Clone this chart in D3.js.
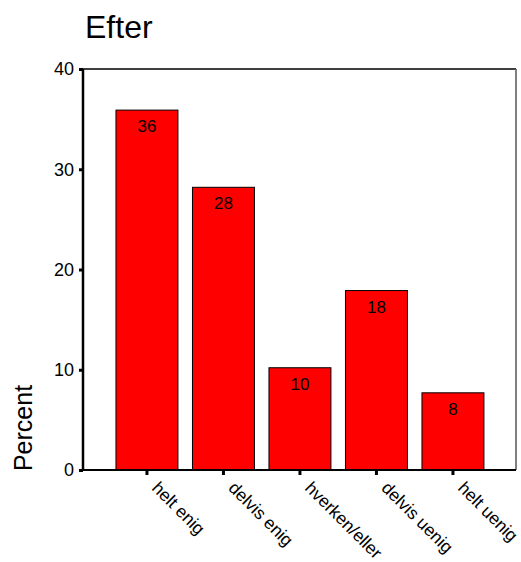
<!DOCTYPE html>
<html><head><meta charset="utf-8">
<script src="https://cdn.jsdelivr.net/npm/d3@7"></script>
<style>body{margin:0;background:#fff;} svg{display:block;font-family:Arial,"Liberation Sans",sans-serif;}</style>
</head><body>
<svg id="c" width="521" height="562"></svg>
<script>
const categories = ["helt enig","delvis enig","hverken/eller","delvis uenig","helt uenig"];
const values = [35.9, 28.2, 10.2, 17.9, 7.7];
const labels = ["36","28","10","18","8"];
const yTicks = [0,10,20,30,40];
const title = "Efter";
const yTitle = "Percent";

(function(){
const svg = d3.select("#c");
const pL = 83, pR = 516, pT = 69, pB = 470;
const x = d3.scaleBand().domain(categories).range([108.7, 491.2]).paddingInner(0.19).paddingOuter(0.095);
const y = d3.scaleLinear().domain([0,40]).range([pB, pT]);

svg.append("text").attr("x",85).attr("y",38).attr("font-size",32).attr("fill","#000").text(title);

svg.append("line").attr("x1",pL).attr("x2",pR).attr("y1",pT).attr("y2",pT).attr("stroke","#000").attr("stroke-width",1.5);
svg.append("line").attr("x1",pR).attr("x2",pR).attr("y1",pT).attr("y2",pB).attr("stroke","#555").attr("stroke-width",1.5);

svg.selectAll("rect.bar").data(values).enter().append("rect")
  .attr("x",(d,i)=>x(categories[i])).attr("width",x.bandwidth())
  .attr("y",d=>y(d)).attr("height",d=>pB-y(d))
  .attr("fill","#ff0000").attr("stroke","#000").attr("stroke-width",1);

svg.selectAll("text.val").data(values).enter().append("text")
  .attr("x",(d,i)=>x(categories[i])+x.bandwidth()/2).attr("y",d=>y(d)+22)
  .attr("text-anchor","middle").attr("font-size",17).attr("fill","#000")
  .text((d,i)=>labels[i]);

const ya = svg.append("g").attr("transform",`translate(${pL},0)`)
  .call(d3.axisLeft(y).tickValues(yTicks).tickSize(4).tickPadding(5).tickFormat(d3.format("d")));
ya.select(".domain").attr("stroke","#000").attr("stroke-width",2.5).attr("d",`M0,${pT}V${pB}`);
ya.selectAll(".tick line").attr("stroke","#000").attr("stroke-width",3);
ya.selectAll(".tick text").attr("font-size",18).attr("fill","#000").attr("font-family","Arial,'Liberation Sans',sans-serif");

const xa = svg.append("g").attr("transform",`translate(0,${pB})`)
  .call(d3.axisBottom(x).tickSize(5).tickFormat(""));
xa.select(".domain").attr("stroke","#000").attr("stroke-width",2).attr("d",`M${pL},0H${pR}`);
xa.selectAll(".tick line").attr("stroke","#000").attr("stroke-width",3);
xa.selectAll(".tick").append("text")
  .attr("transform","translate(4,19) rotate(45)")
  .attr("text-anchor","start").attr("font-size",17.5).attr("fill","#000")
  .attr("font-family","Arial,'Liberation Sans',sans-serif")
  .text(d=>d);

svg.append("text").attr("transform","translate(32,428) rotate(-90)")
  .attr("text-anchor","middle").attr("font-size",25).attr("fill","#000").text(yTitle);
})();
</script>
</body></html>
